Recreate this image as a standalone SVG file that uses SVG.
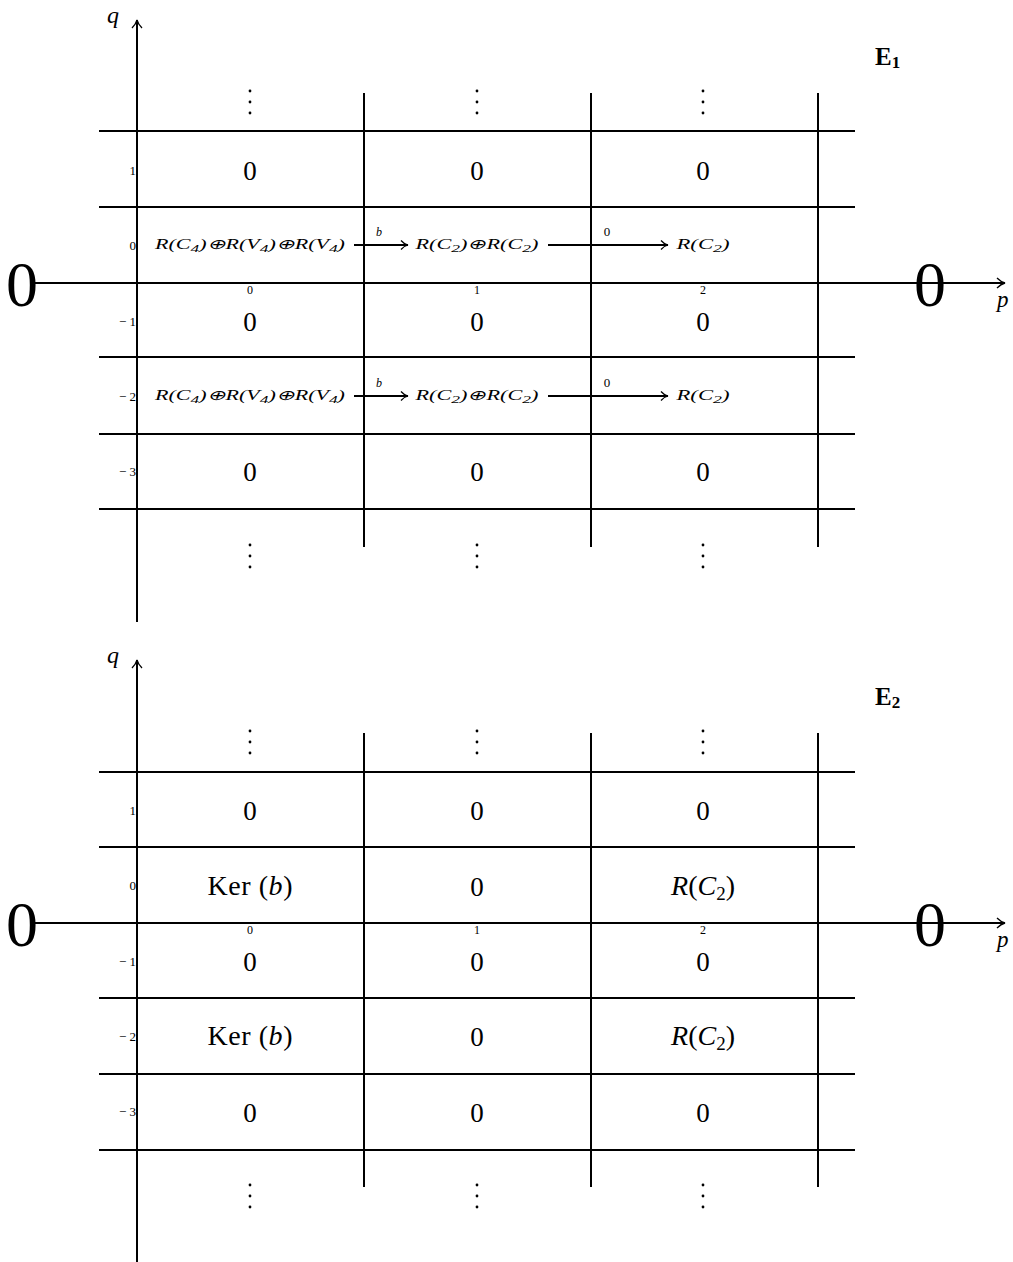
<svg xmlns="http://www.w3.org/2000/svg" width="1013" height="1262" viewBox="0 0 1013 1262">
<style>
.ln{stroke:#000;stroke-width:2;fill:none}
.ax{stroke:#000;stroke-width:2;fill:none}
.t{font-family:"Liberation Serif",serif;fill:#000}
.big{font-size:64px;text-anchor:middle}
.cell{font-size:27px;text-anchor:middle}
.ent{font-size:28px;text-anchor:middle}
.rl{font-size:13px;text-anchor:end}
.cl{font-size:12px;text-anchor:middle}
.it{font-style:italic}
.sm{font-size:14px;text-anchor:middle;font-style:italic}
.lab{font-size:12px;font-style:italic;text-anchor:middle}
.bold{font-weight:bold;font-size:25px}
.dot{fill:#000}
</style>
<defs>
<marker id="ah" markerWidth="12" markerHeight="12" refX="10" refY="6" orient="auto" markerUnits="userSpaceOnUse">
<path d="M3,1.5 Q6,5 10,6 Q6,7 3,10.5" stroke="#000" stroke-width="1.2" fill="none"/>
</marker>
<marker id="ah2" markerWidth="14" markerHeight="14" refX="12" refY="7" orient="auto" markerUnits="userSpaceOnUse">
<path d="M4,2 Q8,6 12,7 Q8,8 4,12" stroke="#000" stroke-width="1.3" fill="none"/>
</marker>
<g id="dots"><circle cx="0" cy="0" r="1.4" class="dot"/><circle cx="0" cy="11" r="1.4" class="dot"/><circle cx="0" cy="22" r="1.4" class="dot"/></g>
</defs>

<!-- ===== Top panel E1 ===== -->
<g id="axes-top">
<line class="ax" x1="137" y1="622" x2="137" y2="20" marker-end="url(#ah2)"/>
<line class="ax" x1="35" y1="283" x2="1005" y2="283" marker-end="url(#ah2)"/>
<text class="t it" x="107" y="23" font-size="24">q</text>
<text class="t it" x="997" y="307" font-size="23">p</text>
<text class="t big" x="22" y="306">0</text>
<text class="t big" x="930" y="306">0</text>
<text class="t bold" x="875" y="65">E<tspan font-size="17" dy="3">1</tspan></text>
</g>
<g id="grid-top">
<line class="ln" x1="99" y1="131" x2="855" y2="131" stroke-width="2.5"/>
<line class="ln" x1="99" y1="207" x2="855" y2="207"/>
<line class="ln" x1="99" y1="357" x2="855" y2="357"/>
<line class="ln" x1="99" y1="434" x2="855" y2="434"/>
<line class="ln" x1="99" y1="509" x2="855" y2="509" stroke-width="2.5"/>
<line class="ln" x1="364" y1="93" x2="364" y2="547"/>
<line class="ln" x1="591" y1="93" x2="591" y2="547" stroke-width="2.5"/>
<line class="ln" x1="818" y1="93" x2="818" y2="547" stroke-width="2.5"/>
</g>
<g id="labels-top">
<text class="t rl" x="136" y="175">1</text>
<text class="t rl" x="136" y="250">0</text>
<text class="t rl" x="136" y="326">− 1</text>
<text class="t rl" x="136" y="401">− 2</text>
<text class="t rl" x="136" y="476">− 3</text>
<text class="t cl" x="250" y="294">0</text>
<text class="t cl" x="477" y="294">1</text>
<text class="t cl" x="703" y="294">2</text>
<use href="#dots" x="250" y="91"/><use href="#dots" x="477" y="91"/><use href="#dots" x="703" y="91"/>
<use href="#dots" x="250" y="545"/><use href="#dots" x="477" y="545"/><use href="#dots" x="703" y="545"/>
</g>
<g id="E1-r1"><text class="t cell" x="250" y="180">0</text><text class="t cell" x="477" y="180">0</text><text class="t cell" x="703" y="180">0</text></g>
<g id="E1-r0-c0"><text class="t sm" x="250" y="249" textLength="190" lengthAdjust="spacingAndGlyphs">R(C<tspan font-size="11" dy="3">4</tspan><tspan dy="-3">)⊕R(V</tspan><tspan font-size="11" dy="3">4</tspan><tspan dy="-3">)⊕R(V</tspan><tspan font-size="11" dy="3">4</tspan><tspan dy="-3">)</tspan></text></g>
<g id="E1-r0-c1"><text class="t sm" x="477" y="249" textLength="123" lengthAdjust="spacingAndGlyphs">R(C<tspan font-size="11" dy="3">2</tspan><tspan dy="-3">)⊕R(C</tspan><tspan font-size="11" dy="3">2</tspan><tspan dy="-3">)</tspan></text></g>
<g id="E1-r0-c2"><text class="t sm" x="703" y="249" textLength="53" lengthAdjust="spacingAndGlyphs">R(C<tspan font-size="11" dy="3">2</tspan><tspan dy="-3">)</tspan></text></g>
<g id="E1-rm1"><text class="t cell" x="250" y="331">0</text><text class="t cell" x="477" y="331">0</text><text class="t cell" x="703" y="331">0</text></g>
<g id="E1-rm2-c0"><text class="t sm" x="250" y="400" textLength="190" lengthAdjust="spacingAndGlyphs">R(C<tspan font-size="11" dy="3">4</tspan><tspan dy="-3">)⊕R(V</tspan><tspan font-size="11" dy="3">4</tspan><tspan dy="-3">)⊕R(V</tspan><tspan font-size="11" dy="3">4</tspan><tspan dy="-3">)</tspan></text></g>
<g id="E1-rm2-c1"><text class="t sm" x="477" y="400" textLength="123" lengthAdjust="spacingAndGlyphs">R(C<tspan font-size="11" dy="3">2</tspan><tspan dy="-3">)⊕R(C</tspan><tspan font-size="11" dy="3">2</tspan><tspan dy="-3">)</tspan></text></g>
<g id="E1-rm2-c2"><text class="t sm" x="703" y="400" textLength="53" lengthAdjust="spacingAndGlyphs">R(C<tspan font-size="11" dy="3">2</tspan><tspan dy="-3">)</tspan></text></g>
<g id="E1-rm3"><text class="t cell" x="250" y="481">0</text><text class="t cell" x="477" y="481">0</text><text class="t cell" x="703" y="481">0</text></g>
<g id="connectors-top">
<line class="ln" x1="354" y1="245" x2="408" y2="245" stroke-width="1.3" marker-end="url(#ah)"/>
<text class="t lab" x="379" y="236">b</text>
<line class="ln" x1="548" y1="245" x2="668" y2="245" stroke-width="1.3" marker-end="url(#ah)"/>
<text class="t" x="607" y="236" font-size="13" text-anchor="middle">0</text>
<line class="ln" x1="354" y1="396" x2="408" y2="396" stroke-width="1.3" marker-end="url(#ah)"/>
<text class="t lab" x="379" y="387">b</text>
<line class="ln" x1="548" y1="396" x2="668" y2="396" stroke-width="1.3" marker-end="url(#ah)"/>
<text class="t" x="607" y="387" font-size="13" text-anchor="middle">0</text>
</g>

<!-- ===== Bottom panel E2 ===== -->
<g id="axes-bottom">
<line class="ax" x1="137" y1="1262" x2="137" y2="660" marker-end="url(#ah2)"/>
<line class="ax" x1="35" y1="923" x2="1005" y2="923" marker-end="url(#ah2)"/>
<text class="t it" x="107" y="663" font-size="24">q</text>
<text class="t it" x="997" y="947" font-size="23">p</text>
<text class="t big" x="22" y="946">0</text>
<text class="t big" x="930" y="946">0</text>
<text class="t bold" x="875" y="705">E<tspan font-size="17" dy="3">2</tspan></text>
</g>
<g id="grid-bottom">
<line class="ln" x1="99" y1="772" x2="855" y2="772"/>
<line class="ln" x1="99" y1="847" x2="855" y2="847" stroke-width="2.5"/>
<line class="ln" x1="99" y1="998" x2="855" y2="998"/>
<line class="ln" x1="99" y1="1074" x2="855" y2="1074"/>
<line class="ln" x1="99" y1="1150" x2="855" y2="1150"/>
<line class="ln" x1="364" y1="733" x2="364" y2="1187"/>
<line class="ln" x1="591" y1="733" x2="591" y2="1187" stroke-width="2.5"/>
<line class="ln" x1="818" y1="733" x2="818" y2="1187" stroke-width="2.5"/>
</g>
<g id="labels-bottom">
<text class="t rl" x="136" y="815">1</text>
<text class="t rl" x="136" y="890">0</text>
<text class="t rl" x="136" y="966">− 1</text>
<text class="t rl" x="136" y="1041">− 2</text>
<text class="t rl" x="136" y="1116">− 3</text>
<text class="t cl" x="250" y="934">0</text>
<text class="t cl" x="477" y="934">1</text>
<text class="t cl" x="703" y="934">2</text>
<use href="#dots" x="250" y="731"/><use href="#dots" x="477" y="731"/><use href="#dots" x="703" y="731"/>
<use href="#dots" x="250" y="1185"/><use href="#dots" x="477" y="1185"/><use href="#dots" x="703" y="1185"/>
</g>
<g id="E2-r1"><text class="t cell" x="250" y="820">0</text><text class="t cell" x="477" y="820">0</text><text class="t cell" x="703" y="820">0</text></g>
<g id="E2-r0">
<text class="t ent" x="250" y="895" textLength="85" lengthAdjust="spacing">Ker (<tspan font-style="italic">b</tspan>)</text>
<text class="t cell" x="477" y="896">0</text>
<text class="t ent" x="703" y="895"><tspan font-style="italic">R</tspan>(<tspan font-style="italic">C</tspan><tspan font-size="19" dy="5">2</tspan><tspan dy="-5">)</tspan></text>
</g>
<g id="E2-rm1"><text class="t cell" x="250" y="971">0</text><text class="t cell" x="477" y="971">0</text><text class="t cell" x="703" y="971">0</text></g>
<g id="E2-rm2">
<text class="t ent" x="250" y="1045" textLength="85" lengthAdjust="spacing">Ker (<tspan font-style="italic">b</tspan>)</text>
<text class="t cell" x="477" y="1046">0</text>
<text class="t ent" x="703" y="1045"><tspan font-style="italic">R</tspan>(<tspan font-style="italic">C</tspan><tspan font-size="19" dy="5">2</tspan><tspan dy="-5">)</tspan></text>
</g>
<g id="E2-rm3"><text class="t cell" x="250" y="1122">0</text><text class="t cell" x="477" y="1122">0</text><text class="t cell" x="703" y="1122">0</text></g>
</svg>
